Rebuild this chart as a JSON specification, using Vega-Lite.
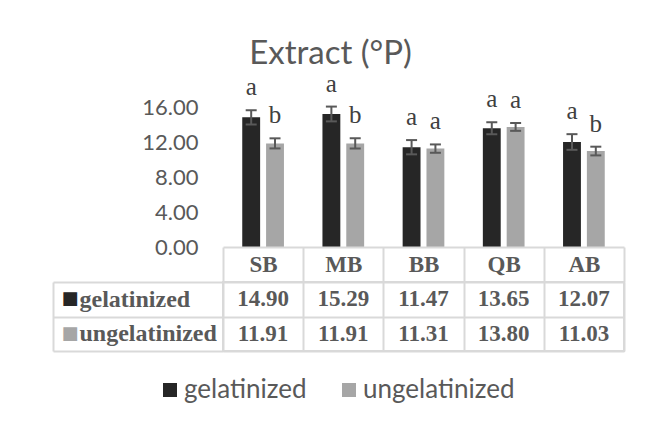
{
  "$schema": "https://vega.github.io/schema/vega-lite/v6.json",
  "padding": {"left": 51, "top": 37, "right": 5, "bottom": 5},
  "autosize": {"type": "pad"},
  "background": "white",
  "title": {"text": "Extract (°P)", "font": "Lato", "fontSize": 33, "fontWeight": "normal", "color": "#595959", "anchor": "middle", "offset": 1, "dx": -8},
  "datasets": {
    "bars": [
      {"cat": "SB", "series": "gelatinized", "value": 14.90, "lo": 14.08, "hi": 15.72, "letter": "a"},
      {"cat": "SB", "series": "ungelatinized", "value": 11.91, "lo": 11.33, "hi": 12.49, "letter": "b"},
      {"cat": "MB", "series": "gelatinized", "value": 15.29, "lo": 14.44, "hi": 16.14, "letter": "a"},
      {"cat": "MB", "series": "ungelatinized", "value": 11.91, "lo": 11.33, "hi": 12.49, "letter": "b"},
      {"cat": "BB", "series": "gelatinized", "value": 11.47, "lo": 10.65, "hi": 12.29, "letter": "a"},
      {"cat": "BB", "series": "ungelatinized", "value": 11.31, "lo": 10.83, "hi": 11.79, "letter": "a"},
      {"cat": "QB", "series": "gelatinized", "value": 13.65, "lo": 12.96, "hi": 14.34, "letter": "a"},
      {"cat": "QB", "series": "ungelatinized", "value": 13.80, "lo": 13.35, "hi": 14.25, "letter": "a"},
      {"cat": "AB", "series": "gelatinized", "value": 12.07, "lo": 11.17, "hi": 12.97, "letter": "a"},
      {"cat": "AB", "series": "ungelatinized", "value": 11.03, "lo": 10.53, "hi": 11.53, "letter": "b"}
    ]
  },
  "bounds": "flush",
  "spacing": 35,
  "resolve": {"scale": {"x": "independent", "y": "independent"}},
  "vconcat": [
    {
      "width": 401,
      "height": 174,
      "data": {"name": "bars"},
      "view": {"stroke": null},
      "encoding": {
        "x": {"field": "cat", "type": "nominal", "sort": ["SB", "MB", "BB", "QB", "AB"], "scale": {"paddingInner": 0.48, "paddingOuter": 0.24}, "axis": null},
        "xOffset": {"field": "series", "type": "nominal", "sort": ["gelatinized", "ungelatinized"], "scale": {"paddingInner": 0.25}}
      },
      "layer": [
        {
          "mark": {"type": "bar"},
          "encoding": {
            "y": {"field": "value", "type": "quantitative", "scale": {"domain": [0, 20], "nice": false},
              "axis": {"values": [0, 4, 8, 12, 16], "format": ".2f", "title": null, "domain": false, "ticks": false, "grid": false, "labelFont": "Lato", "labelFontSize": 22, "labelColor": "#595959", "labelPadding": 25}},
            "color": {"field": "series", "type": "nominal", "scale": {"domain": ["gelatinized", "ungelatinized"], "range": ["#262626", "#a6a6a6"]},
              "legend": {"orient": "none", "legendX": -66, "legendY": 304, "direction": "horizontal", "title": null, "labelFont": "Lato", "labelFontSize": 26, "labelColor": "#595959", "symbolType": "square", "symbolSize": 196, "symbolStrokeWidth": 0, "symbolOpacity": 1, "labelOffset": 1, "columnPadding": 29, "padding": 0}}
          }
        },
        {
          "mark": {"type": "rule", "color": "#595959", "strokeWidth": 2},
          "encoding": {"y": {"field": "lo", "type": "quantitative"}, "y2": {"field": "hi"}}
        },
        {
          "mark": {"type": "tick", "color": "#595959", "thickness": 2, "size": 11, "opacity": 1},
          "encoding": {"y": {"field": "lo", "type": "quantitative"}}
        },
        {
          "mark": {"type": "tick", "color": "#595959", "thickness": 2, "size": 11, "opacity": 1},
          "encoding": {"y": {"field": "hi", "type": "quantitative"}}
        },
        {
          "mark": {"type": "text", "font": "Liberation Serif", "fontSize": 25, "color": "#404040", "baseline": "alphabetic", "dy": -15},
          "encoding": {"y": {"field": "hi", "type": "quantitative"}, "text": {"field": "letter"}}
        }
      ]
    },
    {
      "width": 401,
      "height": 69,
      "data": {"name": "bars"},
      "view": {"stroke": "#d9d9d9", "strokeWidth": 2},
      "encoding": {
        "x": {"field": "cat", "type": "nominal", "sort": ["SB", "MB", "BB", "QB", "AB"], "scale": {"paddingInner": 0, "paddingOuter": 0},
          "axis": {"orient": "top", "offset": 35, "title": null, "tickBand": "extent", "domain": true, "domainColor": "#d9d9d9", "domainWidth": 2, "ticks": true, "tickSize": -35, "tickColor": "#d9d9d9", "tickWidth": 2, "grid": true, "gridColor": "#d9d9d9", "gridWidth": 2, "labelFont": "Liberation Serif", "labelFontWeight": "bold", "labelFontSize": 23, "labelColor": "#595959", "labelBaseline": "middle", "labelPadding": 17.5, "labelAngle": 0}}
      },
      "layer": [
        {
          "mark": {"type": "text", "font": "Liberation Serif", "fontWeight": "bold", "fontSize": 23, "color": "#595959"},
          "encoding": {
            "y": {"field": "series", "type": "nominal", "sort": ["gelatinized", "ungelatinized"], "scale": {"paddingInner": 0, "paddingOuter": 0},
              "axis": {"orient": "left", "title": null, "domain": false, "tickBand": "extent", "ticks": true, "tickSize": 170, "tickColor": "#d9d9d9", "tickWidth": 2, "grid": true, "gridColor": "#d9d9d9", "gridWidth": 2, "labelFont": "Liberation Serif", "labelFontWeight": "bold", "labelFontSize": 24, "labelColor": "#595959", "labelAlign": "left", "labelBaseline": "middle", "labelPadding": -26}},
            "text": {"field": "value", "type": "quantitative", "format": ".2f"}
          }
        },
        {
          "mark": {"type": "text", "opacity": 0},
          "encoding": {
            "y": {"field": "series", "type": "nominal", "sort": ["gelatinized", "ungelatinized"],
              "axis": {"orient": "left", "offset": 170, "title": null, "domain": true, "domainColor": "#d9d9d9", "domainWidth": 2, "ticks": false, "tickSize": 0, "grid": false, "labelExpr": "'■'", "labelFont": "DejaVu Sans", "labelFontSize": 18, "labelColor": {"condition": {"test": "datum.value == 'gelatinized'", "value": "#262626"}, "value": "#a6a6a6"}, "labelAlign": "left", "labelBaseline": "middle", "labelPadding": -8}},
            "text": {"field": "value", "type": "quantitative"}
          }
        }
      ],
      "resolve": {"axis": {"y": "independent"}}
    }
  ],
  "config": {"view": {"stroke": null}}
}
